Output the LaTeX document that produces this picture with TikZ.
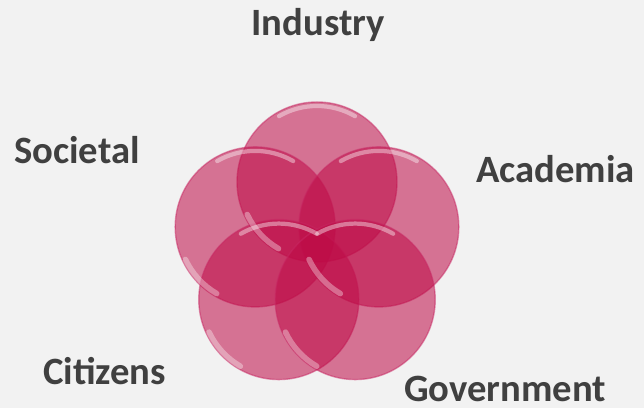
\documentclass[tikz,border=0pt]{standalone}
\usepackage{fontspec}
\setmainfont{Carlito}
\usetikzlibrary{calc}
\definecolor{bg}{HTML}{F2F2F2}
\definecolor{petalfill}{RGB}{190,10,70}
\definecolor{petalrim}{RGB}{200,40,100}
\definecolor{labelgray}{HTML}{404040}
\tikzset{
  petal/.style={circle,minimum size=1.6cm,inner sep=0pt,fill=petalfill,fill opacity=0.55,draw=petalrim,draw opacity=0.5,line width=0.4pt},
  gloss/.style={white,line width=1.2pt,opacity=0.4,line cap=round},
  lbl/.style={anchor=base,text=labelgray,font=\fontsize{11}{13}\selectfont\bfseries}
}
\begin{document}
\begin{tikzpicture}
%background
 \fill[bg] (0,0) rectangle (6.44,4.08);
 \useasboundingbox (0,0) rectangle (6.44,4.08);
%petals
	\coordinate (mid) at (3.17,1.61); %centre of the flower
	\node[petal] (top) at ($(mid)+(90:0.65)$) {}; %top
	\node[petal] (left) at ($(mid)+(162:0.65)$) {}; %left
	\node[petal] (right) at ($(mid)+(18:0.65)$) {}; %right
	\node[petal] (botleft) at ($(mid)+(234:0.65)$) {}; %bottom left
	\node[petal] (botright) at ($(mid)+(306:0.65)$) {}; %bottom right
	%highlights
	\foreach \p in {top,left,right,botleft,botright}{
		\draw[gloss] (\p.center) ++(60:0.76) arc (60:120:0.76); %top shine
		\draw[gloss,line width=1.6pt,opacity=0.35] (\p.center) ++(205:0.77) arc (205:240:0.77); %lower left shine
	}
%labels
	\node[lbl] (industry) at (3.18,3.72) {Industry};
	\node[lbl] (societal) at (0.77,2.44) {Societal};
	\node[lbl] (academia) at (5.555,2.25) {Academia};
	\node[lbl] (citizens) at (1.047,0.23) {Citizens};
	\node[lbl] (government) at (5.05,0.06) {Government};
\end{tikzpicture}
\end{document}
